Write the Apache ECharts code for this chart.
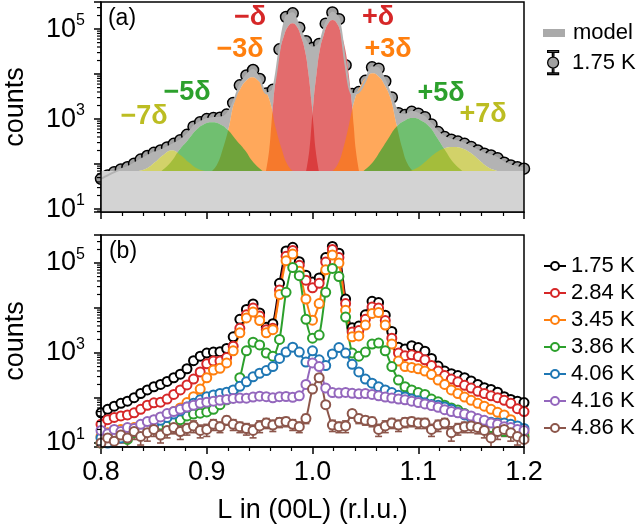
<!DOCTYPE html>
<html>
<head>
<meta charset="utf-8">
<script src="https://cdn.jsdelivr.net/npm/echarts@6.0.0/dist/echarts.min.js"></script>
<style>
    html, body { margin: 0; padding: 0; background: #fff; }
    .chart { width: 640px; height: 530px; }
</style>
</head>
<body>
<div class="chart"></div>
<script>
// L grid (r.l.u.)
var L = [0.8, 0.8063, 0.8125, 0.8188, 0.825, 0.8313, 0.8375, 0.8438, 0.85,
    0.8563, 0.8625, 0.8688, 0.875, 0.8813, 0.8875, 0.8938, 0.9,
    0.9063, 0.9125, 0.9188, 0.925, 0.9313, 0.9375, 0.9438, 0.95,
    0.9563, 0.9625, 0.9688, 0.975, 0.9813, 0.9875, 0.9938, 1.0,
    1.0063, 1.0125, 1.0188, 1.025, 1.0313, 1.0375, 1.0438, 1.05,
    1.0563, 1.0625, 1.0688, 1.075, 1.0813, 1.0875, 1.0938, 1.1,
    1.1063, 1.1125, 1.1188, 1.125, 1.1313, 1.1375, 1.1438, 1.15,
    1.1563, 1.1625, 1.1688, 1.175, 1.1813, 1.1875, 1.1938, 1.2];

var temps = ['1.75 K', '2.84 K', '3.45 K', '3.86 K', '4.06 K', '4.16 K', '4.86 K'];

var cnt175 = [47, 56, 66, 76, 85, 102, 126, 151, 178,
    200, 234, 282, 339, 447, 676, 851, 1000,
    1050, 1070, 1260, 2290, 5620, 9330, 12300, 7760,
    3720, 4470, 35500, 186000, 224000, 107000, 53700, 38000,
    46800, 132000, 234000, 166000, 15800, 3630, 3980, 7080,
    14100, 13200, 6920, 3020, 1350, 1230, 1450, 1320,
    1100, 759, 513, 398, 347, 316, 282, 240,
    200, 170, 155, 135, 107, 93, 85, 79];
var cnt284 = [26, 33, 37, 40, 42, 47, 56, 69, 78,
    81, 95, 120, 151, 195, 263, 380, 575,
    661, 661, 794, 1410, 3550, 7080, 10000, 6610,
    3310, 3550, 25100, 141000, 191000, 89100, 41700, 28200,
    35500, 105000, 200000, 132000, 12600, 2950, 3160, 5620,
    10500, 10000, 5250, 2140, 1000, 871, 912, 832,
    708, 525, 398, 316, 263, 229, 191, 166,
    141, 126, 112, 102, 89, 76, 58, 50];
var cnt345 = [14, 17, 15, 20, 18, 22, 25, 28, 32,
    37, 42, 50, 60, 79, 107, 158, 282,
    417, 457, 603, 1120, 2820, 6030, 8130, 5250,
    2820, 3310, 20000, 112000, 158000, 66100, 15800, 5370,
    12600, 70800, 151000, 100000, 8910, 2290, 2400, 4170,
    7590, 7940, 4170, 1580, 661, 501, 479, 447,
    398, 331, 251, 200, 151, 126, 105, 89,
    76, 66, 56, 48, 42, 33, 22, 17];
var cnt386 = [10, 11, 13, 15, 12, 17, 19, 18, 22,
    25, 24, 30, 33, 40, 44, 46, 49,
    56, 71, 91, 141, 282, 1120, 1740, 1510,
    1000, 851, 2000, 22400, 79400, 52500, 5620, 2140,
    2510, 22400, 75900, 50100, 6310, 1000, 851, 1050,
    1580, 1660, 1120, 501, 251, 178, 151, 132,
    120, 95, 83, 69, 60, 54, 45, 38,
    32, 28, 22, 19, 18, 17, 16, 14];
var cnt406 = [13, 10, 14, 13, 16, 18, 20, 23, 26,
    32, 37, 44, 52, 63, 76, 91, 107,
    117, 126, 135, 151, 182, 229, 295, 355,
    407, 501, 759, 1050, 1350, 1050, 631, 1120,
    708, 525, 955, 1320, 1000, 562, 380, 263,
    214, 178, 151, 132, 115, 105, 95, 87,
    78, 72, 69, 63, 56, 48, 42, 37,
    33, 30, 29, 28, 28, 26, 24, 21];
var cnt416 = [19, 16, 20, 18, 22, 21, 26, 30, 33,
    38, 45, 50, 56, 63, 69, 76, 81,
    85, 89, 93, 98, 100, 99, 105, 110,
    107, 101, 107, 108, 104, 112, 200, 603,
    501, 166, 132, 129, 133, 127, 124, 126,
    120, 112, 105, 100, 95, 91, 85, 79,
    74, 68, 62, 55, 50, 47, 44, 40,
    35, 32, 28, 26, 23, 22, 20, 19];
var cnt486 = [10, 13, 11, 15, 13, 18, 14, 17, 20,
    15, 19, 22, 18, 21, 24, 19, 20,
    26, 23, 32, 26, 23, 21, 19, 24,
    28, 25, 29, 30, 26, 23, 35, 158,
    282, 71, 25, 23, 24, 45, 35, 32,
    30, 20, 24, 28, 25, 29, 30, 28,
    28, 20, 25, 28, 17, 21, 23, 24,
    22, 19, 13, 18, 20, 17, 14, 12];
// error bars of the 4.86 K scan (half length, counts)
var err486 = [4, 5, 4, 5, 5, 6, 5, 6, 6,
    5, 6, 6, 6, 6, 7, 6, 6,
    7, 6, 7, 7, 6, 6, 6, 7,
    7, 7, 7, 7, 7, 6, 8, 15,
    20, 10, 7, 6, 7, 9, 8, 7,
    7, 6, 7, 7, 7, 7, 7, 7,
    7, 6, 7, 7, 6, 6, 6, 7,
    6, 6, 5, 6, 6, 6, 5, 5];

// flat background of the model
var background = 70;

// satellite peaks of the model (L, counts incl. background)
var peakM1 = [[0.956, 70], [0.959, 200], [0.961, 700], [0.963, 2500], [0.966, 11000], [0.969, 32000], [0.973, 70000], [0.977, 115000], [0.981, 135000],
    [0.985, 115000], [0.989, 70000], [0.993, 32000], [0.996, 11000], [0.999, 2500], [1.001, 700], [1.003, 200], [1.006, 70]];
var peakP1 = [[0.994, 70], [0.997, 200], [0.999, 700], [1.001, 2500], [1.004, 11000], [1.007, 35000], [1.011, 80000], [1.015, 135000], [1.019, 160000],
    [1.023, 135000], [1.027, 80000], [1.031, 35000], [1.034, 11000], [1.037, 2500], [1.039, 700], [1.041, 200], [1.044, 70]];
var peakM3 = [[0.905, 70], [0.910, 100], [0.915, 210], [0.9205, 600], [0.9265, 2600], [0.932, 4800], [0.937, 7000], [0.943, 8500],
    [0.949, 7000], [0.954, 4800], [0.9595, 2600], [0.9655, 600], [0.971, 210], [0.976, 100], [0.981, 70]];
var peakP3 = [[1.019, 70], [1.024, 100], [1.029, 220], [1.0345, 750], [1.0405, 3000], [1.046, 5800], [1.051, 8600], [1.057, 10500],
    [1.063, 8600], [1.068, 5800], [1.0735, 3000], [1.0795, 750], [1.085, 220], [1.09, 100], [1.095, 70]];
var peakM5 = [[0.857, 70], [0.866, 110], [0.874, 205], [0.882, 340], [0.890, 570], [0.897, 760], [0.905, 850],
    [0.913, 760], [0.920, 570], [0.928, 340], [0.936, 205], [0.944, 110], [0.953, 70]];
var peakP5 = [[1.048, 70], [1.057, 110], [1.065, 210], [1.072, 380], [1.079, 660], [1.087, 920], [1.095, 1050],
    [1.103, 920], [1.111, 660], [1.118, 380], [1.125, 210], [1.133, 110], [1.142, 70]];
var peakM7 = [[0.835, 70], [0.843, 80], [0.851, 110], [0.859, 160], [0.867, 200], [0.875, 160], [0.883, 110], [0.891, 80], [0.899, 70]];
var peakP7 = [[1.092, 70], [1.100, 85], [1.108, 120], [1.117, 180], [1.125, 225], [1.133, 240],
    [1.141, 225], [1.149, 180], [1.158, 120], [1.166, 85], [1.175, 70]];

var peakLabels = ['\u2212\u03b4', '+\u03b4', '\u22123\u03b4', '+3\u03b4', '\u22125\u03b4', '+5\u03b4', '\u22127\u03b4', '+7\u03b4'];

var minorTicks = [9, 20, 30, 40, 50, 60, 70, 80, 90,
    200, 300, 400, 500, 600, 700, 800, 900,
    2000, 3000, 4000, 5000, 6000, 7000, 8000, 9000,
    20000, 30000, 40000, 50000, 60000, 70000, 80000, 90000,
    200000, 300000];

(function () {
    var font = 'Liberation Sans';
    var myChart = echarts.init(document.querySelector('.chart'));

    function pairs(arr) {
        return L.map(function (x, i) { return [x, arr[i]]; });
    }

    function logLabel(v) {
        var e = Math.log10(v);
        var r = Math.round(e);
        if (Math.abs(e - r) > 1e-6 || r % 2 === 0) return '';
        return '{b|10}{s|' + r + '}';
    }

    function xAxis(gi, showLabel) {
        return {
            gridIndex: gi,
            type: 'value',
            min: 0.8,
            max: 1.2,
            interval: 0.1,
            axisLine: { show: true, lineStyle: { color: '#000', width: 1.5 } },
            axisTick: { show: true, inside: false, length: 7, lineStyle: { color: '#000', width: 1.5 } },
            minorTick: { show: true, splitNumber: 5, length: 4, lineStyle: { color: '#000', width: 1.2 } },
            splitLine: { show: false },
            minorSplitLine: { show: false },
            axisLabel: {
                show: showLabel,
                fontSize: 27,
                fontFamily: font,
                color: '#000',
                margin: 12,
                formatter: function (v) { return v.toFixed(1); }
            },
            name: showLabel ? 'L in (00L) (r.l.u.)' : '',
            nameLocation: 'middle',
            nameGap: 50,
            nameTextStyle: { fontSize: 27, fontFamily: font, color: '#000' }
        };
    }

    function yAxis(gi, min, max) {
        return {
            gridIndex: gi,
            type: 'log',
            logBase: 10,
            min: min,
            max: max,
            axisLine: { show: true, lineStyle: { color: '#000', width: 1.5 } },
            axisTick: { show: true, inside: false, length: 7, lineStyle: { color: '#000', width: 1.5 } },
            splitLine: { show: false },
            axisLabel: {
                margin: 16,
                formatter: logLabel,
                rich: {
                    b: { fontSize: 27, lineHeight: 27, fontFamily: font, color: '#000', verticalAlign: 'bottom' },
                    s: { fontSize: 16, lineHeight: 16, fontFamily: font, color: '#000', verticalAlign: 'bottom', padding: [0, 0, 14, 0] }
                }
            },
            name: 'counts',
            nameLocation: 'middle',
            nameRotate: 90,
            nameGap: 72,
            nameTextStyle: { fontSize: 27, fontFamily: font, color: '#000' }
        };
    }

    function minorTickSeries(idx) {
        return {
            type: 'custom',
            xAxisIndex: idx,
            yAxisIndex: idx,
            clip: false,
            silent: true,
            z: 10,
            data: minorTicks.map(function (v) { return [1.0, v]; }),
            renderItem: function (params, api) {
                var y = api.coord([1.0, api.value(1)])[1];
                var x = params.coordSys.x;
                return {
                    type: 'line',
                    shape: { x1: x - 4, y1: y, x2: x, y2: y },
                    style: { stroke: '#000', lineWidth: 1.2 }
                };
            }
        };
    }

    var peaks = [
        { data: peakM1, color: '#d62728' },
        { data: peakP1, color: '#d62728' },
        { data: peakM3, color: '#ff7f0e' },
        { data: peakP3, color: '#ff7f0e' },
        { data: peakM5, color: '#2ca02c' },
        { data: peakP5, color: '#2ca02c' },
        { data: peakM7, color: '#bcbd22' },
        { data: peakP7, color: '#bcbd22' }
    ];
    var labelPos = [[250, 18], [378, 18], [240, 50], [388, 50], [187, 93], [441, 94], [144, 117], [483, 115]];

    var series = [];
    // model
    series.push({
        name: 'model',
        type: 'line',
        data: pairs(cnt175),
        smooth: 0.3,
        symbol: 'none',
        itemStyle: { color: '#aaaaaa' },
        lineStyle: { color: '#b3b3b3', width: 2 },
        areaStyle: { color: '#b3b3b3', opacity: 1, origin: 'start' }
    });
    // white underlay so that the peaks blend on white
    peaks.forEach(function (p) {
        series.push({
            type: 'line', data: p.data, smooth: true, symbol: 'none', silent: true,
            lineStyle: { width: 0 },
            areaStyle: { color: '#fff', opacity: 1, origin: 'start' }
        });
    });
    peaks.forEach(function (p) {
        series.push({
            type: 'line', data: p.data, smooth: true, symbol: 'none', silent: true,
            lineStyle: { width: 0 },
            areaStyle: { color: p.color, opacity: 0.68, origin: 'start' }
        });
    });
    series.push({
        type: 'line',
        data: [[L[0], background], [L[L.length - 1], background]],
        symbol: 'none',
        silent: true,
        lineStyle: { width: 0 },
        areaStyle: { color: '#d3d3d3', opacity: 1, origin: 'start' }
    });
    series.push({
        name: 'T175a',
        type: 'scatter',
        data: pairs(cnt175),
        symbolSize: 11,
        clip: false,
        itemStyle: { color: '#a0a0a0', borderColor: '#000', borderWidth: 1.5, opacity: 1 }
    });
    series.push(minorTickSeries(0));

    var colors = ['#000000', '#d62728', '#ff7f0e', '#2ca02c', '#1f77b4', '#9467bd', '#8c564b'];
    var sets = [cnt175, cnt284, cnt345, cnt386, cnt406, cnt416, cnt486];
    sets.forEach(function (arr, i) {
        if (i === sets.length - 1) {
            // error bars for the 4.86 K scan
            series.push({
                type: 'custom',
                xAxisIndex: 1,
                yAxisIndex: 1,
                silent: true,
                clip: true,
                data: L.map(function (x, k) { return [x, arr[k] - err486[k], arr[k] + err486[k]]; }),
                renderItem: function (params, api) {
                    var lo = api.coord([api.value(0), api.value(1)]);
                    var hi = api.coord([api.value(0), api.value(2)]);
                    var st = { stroke: colors[i], lineWidth: 1.6 };
                    return {
                        type: 'group',
                        children: [
                            { type: 'line', shape: { x1: lo[0], y1: lo[1], x2: hi[0], y2: hi[1] }, style: st },
                            { type: 'line', shape: { x1: lo[0] - 3.5, y1: lo[1], x2: lo[0] + 3.5, y2: lo[1] }, style: st },
                            { type: 'line', shape: { x1: hi[0] - 3.5, y1: hi[1], x2: hi[0] + 3.5, y2: hi[1] }, style: st }
                        ]
                    };
                }
            });
        }
        series.push({
            name: temps[i],
            type: 'line',
            xAxisIndex: 1,
            yAxisIndex: 1,
            data: pairs(arr),
            smooth: 0.25,
            clip: false,
            symbol: 'emptyCircle',
            symbolSize: 9,
            showAllSymbol: true,
            color: colors[i],
            lineStyle: { color: colors[i], width: 2 },
            itemStyle: { color: colors[i], borderColor: colors[i], borderWidth: 1.7 }
        });
    });
    series.push(minorTickSeries(1));

    var graphics = [
        { type: 'rect', shape: { x: 101, y: 2, width: 423, height: 210 }, style: { fill: null, stroke: '#000', lineWidth: 1.5 }, z: 100, silent: true },
        { type: 'rect', shape: { x: 101, y: 235, width: 423, height: 212 }, style: { fill: null, stroke: '#000', lineWidth: 1.5 }, z: 100, silent: true },
        { type: 'text', x: 122, y: 19, style: { text: '(a)', fill: '#000', font: '23px "Liberation Sans"', textAlign: 'center', textVerticalAlign: 'middle' }, z: 100 },
        { type: 'text', x: 123, y: 252, style: { text: '(b)', fill: '#000', font: '23px "Liberation Sans"', textAlign: 'center', textVerticalAlign: 'middle' }, z: 100 }
    ];
    peakLabels.forEach(function (t, i) {
        graphics.push({
            type: 'text', x: labelPos[i][0], y: labelPos[i][1], z: 100,
            style: { text: t, fill: peaks[i].color, font: 'bold 27px "Liberation Sans"', textAlign: 'center', textVerticalAlign: 'middle' }
        });
    });

    var errIcon = 'path://M2,1L12,1L12,2.5L2,2.5Z M6.3,2.5L7.7,2.5L7.7,7L6.3,7Z M6.3,17L7.7,17L7.7,21.5L6.3,21.5Z M2,21.5L12,21.5L12,23L2,23Z M12,12A5,5,0,1,1,2,12A5,5,0,1,1,12,12Z';

    var option = {
        animation: false,
        backgroundColor: '#fff',
        grid: [
            { left: 101, top: 2, width: 423, height: 210, outerBoundsMode: 'none' },
            { left: 101, top: 235, width: 423, height: 212, outerBoundsMode: 'none' }
        ],
        xAxis: [xAxis(0, false), xAxis(1, true)],
        yAxis: [yAxis(0, 8.6, 400000), yAxis(1, 8.15, 420000)],
        legend: [
            {
                data: [{ name: 'model', icon: 'rect', itemStyle: { color: '#aaaaaa', borderWidth: 0 } }],
                left: 538, top: 17, itemWidth: 22, itemHeight: 8,
                selectedMode: false,
                textStyle: { fontSize: 22, lineHeight: 22, fontFamily: font, color: '#000', padding: [0, 0, 0, 3] }
            },
            {
                data: [{ name: 'T175a', icon: errIcon, itemStyle: { color: '#a0a0a0', borderColor: '#000', borderWidth: 1.3 } }],
                formatter: function () { return '1.75 K'; },
                left: 542, top: 45, itemWidth: 14, itemHeight: 24,
                selectedMode: false,
                textStyle: { fontSize: 22, lineHeight: 22, fontFamily: font, color: '#000', padding: [0, 0, 0, 7] }
            },
            {
                data: temps,
                orient: 'vertical',
                left: 538, top: 250, itemWidth: 22, itemHeight: 10, itemGap: 5,
                selectedMode: false,
                textStyle: { fontSize: 22, lineHeight: 22, fontFamily: font, color: '#000' }
            }
        ],
        graphic: graphics,
        series: series
    };
    myChart.setOption(option);
    window.addEventListener('resize', function () {
        myChart.resize();
    });
})();
</script>
</body>
</html>
